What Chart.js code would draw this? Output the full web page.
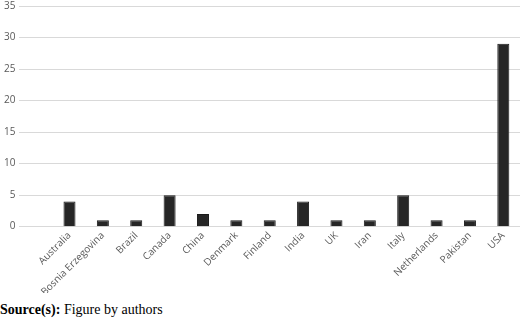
<!DOCTYPE html>
<html>
<head>
<meta charset="utf-8">
<script src="https://cdn.jsdelivr.net/npm/chart.js@4"></script>
<style>
  body { margin: 0; background: #fff; }
  #wrap { width: 520px; height: 297px; position: absolute; left: 0; top: -4px; }
  #caption { position: absolute; left: 0; top: 302px; font-family: "Liberation Serif", "Times New Roman", serif; font-size: 14px; color: #000; }
</style>
</head>
<body>
<div id="wrap"><canvas id="chart"></canvas></div>
<div id="caption"><b>Source(s):</b> Figure by authors</div>
<script>
// categories (first slot left empty, as in the original)
const countries = ['', 'Australia', 'Bosnia Erzegovina', 'Brazil', 'Canada', 'China', 'Denmark',
  'Finland', 'India', 'UK', 'Iran', 'Italy', 'Netherlands', 'Pakistan', 'USA'];
const counts = [null, 4, 1, 1, 5, 2, 1, 1, 4, 1, 1, 5, 1, 1, 29];
const yTicks = [0, 5, 10, 15, 20, 25, 30, 35];

const ctx = document.getElementById('chart').getContext('2d');
new Chart(ctx, {
  type: 'bar',
  data: {
    labels: countries,
    datasets: [{
      data: counts,
      backgroundColor: '#262626',
      borderColor: '#1a1a1a',
      borderWidth: 1,
      categoryPercentage: 1,
      barPercentage: 0.36
    }]
  },
  options: {
    responsive: true,
    maintainAspectRatio: false,
    animation: false,
    layout: { padding: { top: 0, left: 0, right: 0, bottom: 0 } },
    plugins: {
      legend: { display: false },
      tooltip: { enabled: false }
    },
    scales: {
      x: {
        grid: { display: false },
        border: { color: '#d9d9d9' },
        ticks: {
          color: '#595959',
          font: { family: 'Open Sans', size: 10 },
          minRotation: 45,
          maxRotation: 45,
          padding: -5
        }
      },
      y: {
        min: 0,
        max: 35,
        afterBuildTicks: function(axis) {
          axis.ticks = yTicks.map(v => ({ value: v }));
        },
        grid: { color: '#d9d9d9', drawTicks: false },
        border: { display: false },
        ticks: {
          color: '#595959',
          font: { family: 'Open Sans', size: 10 },
          padding: 4
        }
      }
    }
  }
});
</script>
</body>
</html>
